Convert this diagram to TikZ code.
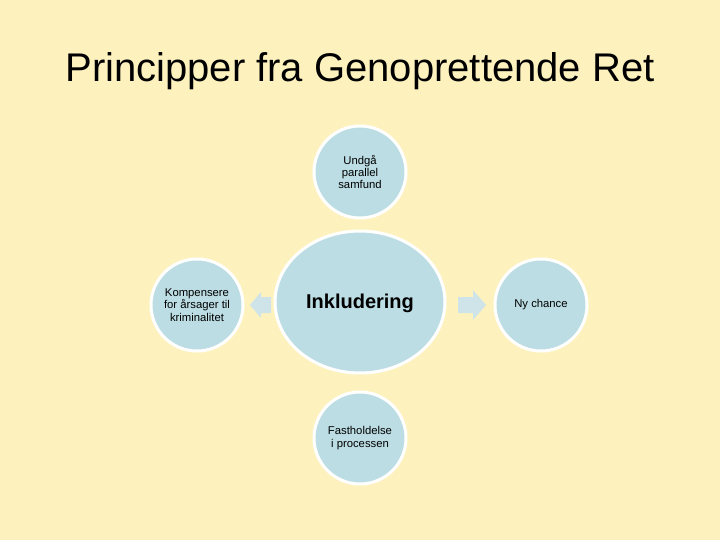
\documentclass[tikz,border=0pt]{standalone}
\usepackage{fontspec}
\setmainfont{Liberation Sans}
\definecolor{bg}{RGB}{253,242,190}
\definecolor{cfill}{RGB}{187,221,227}
\definecolor{afill}{RGB}{206,228,232}
\begin{document}
\begin{tikzpicture}[x=1pt,y=-1pt,
  circ/.style={circle,fill=cfill,draw=white,line width=3pt,minimum size=92pt,inner sep=0pt,align=center,font=\fontsize{11.3}{12.2}\selectfont},
  arr/.style={fill=afill,draw=none}]
\useasboundingbox (0,0) rectangle (720,540);
\fill[bg] (0,0) rectangle (720,540);
\node[font=\fontsize{40}{44}\selectfont,anchor=base] (title) at (360,82) {Principper fra Genoprettende Ret};
\node[circ] (top) at (360,172) {Undgå\\parallel\\samfund};
\node[circ] (left) at (197,305) {Kompensere\\for årsager til\\kriminalitet};
\node[circ] (right) at (541,305) {Ny chance};
\node[circ] (bottom) at (360,438) {Fastholdelse\\i processen};
\path[draw=white,line width=3pt,fill=cfill] (360,302) ellipse (85 and 71);
\node[font=\fontsize{20}{22}\selectfont\bfseries] (hub) at (360,303) {Inkludering};
\fill[arr] (250,305) -- (261,292) -- (261,297) -- (271,297) -- (271,313) -- (261,313) -- (261,318) -- cycle;
\fill[arr] (486,305) -- (473,290) -- (473,297) -- (458,297) -- (458,313) -- (473,313) -- (473,320) -- cycle;
\end{tikzpicture}
\end{document}
